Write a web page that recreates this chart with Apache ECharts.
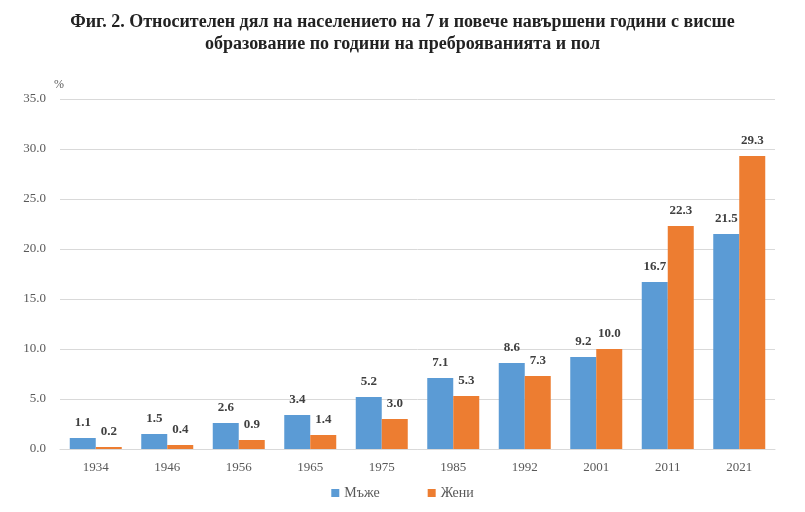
<!DOCTYPE html>
<html>
<head>
<meta charset="utf-8">
<script src="https://cdn.jsdelivr.net/npm/echarts@6/dist/echarts.min.js"></script>
<style>
html,body{margin:0;padding:0;background:#fff;}
#chart{width:805px;height:512px;}
</style>
</head>
<body>
<div id="chart"></div>
<script>
let years = ['1934','1946','1956','1965','1975','1985','1992','2001','2011','2021'];
let men = [1.1, 1.5, 2.6, 3.4, 5.2, 7.1, 8.6, 9.2, 16.7, 21.5];
let women = [0.2, 0.4, 0.9, 1.4, 3.0, 5.3, 7.3, 10.0, 22.3, 29.3];
let seriesNames = ['Мъже', 'Жени'];

let serif = '"Liberation Serif", "DejaVu Serif", serif';
let myChart = echarts.init(document.getElementById('chart'));

function barSeries(name, data, color){
    return {
        name: name,
        type: 'bar',
        data: data,
        barWidth: 26,
        barGap: '0%',
        itemStyle: {color: color},
        label: {
            show: true,
            position: 'top',
            distance: 9,
            fontFamily: serif,
            fontWeight: 'bold',
            fontSize: 13,
            color: '#404040',
            formatter: p => p.value.toFixed(1)
        }
    };
}

myChart.setOption({
    animation: false,
    title: {
        text: 'Фиг. 2. Относителен дял на населението на 7 и повече навършени години с висше\nобразование по години на преброяванията и пол',
        left: 'center',
        top: 6,
        textStyle: {
            fontFamily: serif,
            fontWeight: 'bold',
            fontSize: 18,
            lineHeight: 22,
            color: '#222'
        }
    },
    legend: {
        data: seriesNames,
        bottom: 7,
        itemWidth: 8,
        itemHeight: 8,
        itemGap: 48,
        icon: 'rect',
        textStyle: {fontFamily: serif, fontSize: 14, color: '#595959'}
    },
    grid: {left: 60, right: 30, top: 99, bottom: 63},
    xAxis: {
        type: 'category',
        data: years,
        axisLine: {lineStyle: {color: '#d9d9d9', width: 1}},
        axisTick: {show: false},
        axisLabel: {fontFamily: serif, fontSize: 13, color: '#595959', margin: 12}
    },
    yAxis: {
        type: 'value',
        min: 0,
        max: 35,
        interval: 5,
        name: '%',
        nameGap: 8,
        nameTextStyle: {fontFamily: serif, fontSize: 12, color: '#595959', align: 'left', padding: [0, 0, 0, -6]},
        axisLabel: {fontFamily: serif, fontSize: 13, color: '#595959', formatter: v => v.toFixed(1), margin: 14},
        splitLine: {lineStyle: {color: '#d9d9d9'}}
    },
    series: [
        barSeries(seriesNames[0], men, '#5b9bd5'),
        barSeries(seriesNames[1], women, '#ed7d31')
    ]
});
</script>
</body>
</html>
